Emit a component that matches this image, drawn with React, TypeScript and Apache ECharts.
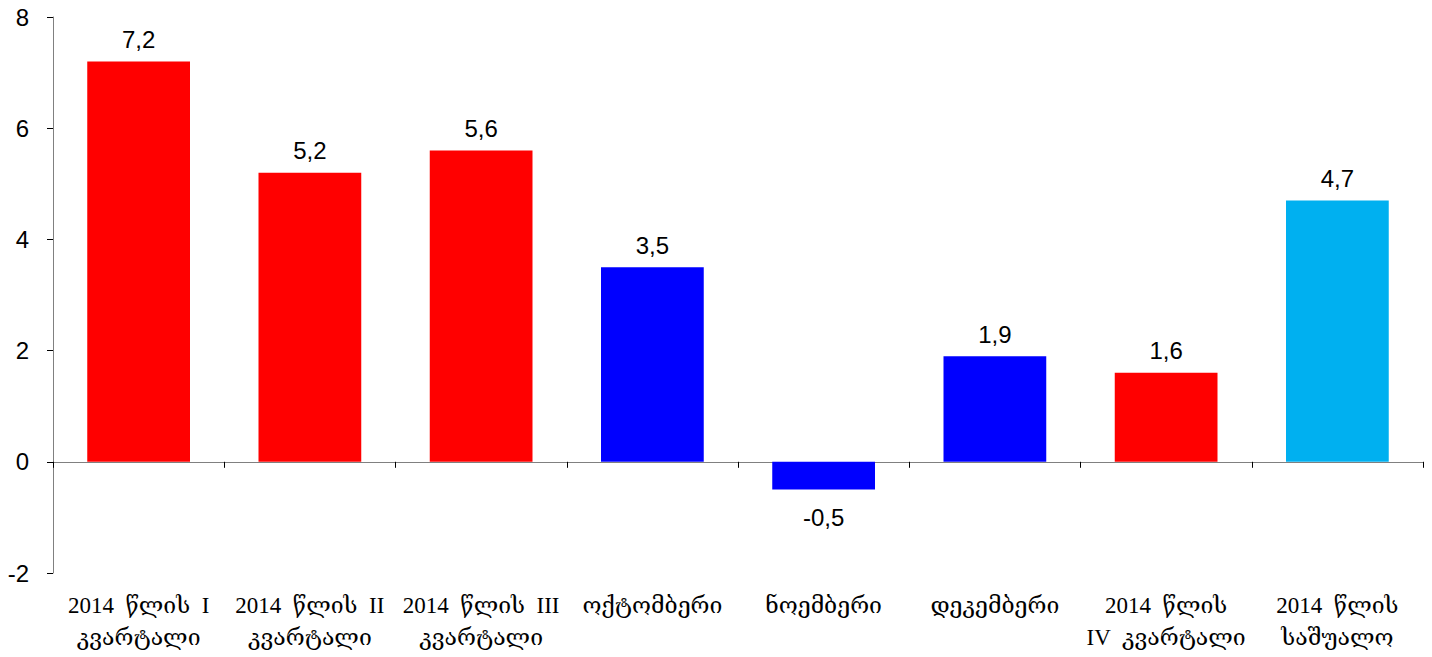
import React, { useEffect, useRef } from "react";
import * as echarts from "echarts";

const categories = [
  "2014  წლის  I\nკვარტალი",
  "2014  წლის  II\nკვარტალი",
  "2014  წლის  III\nკვარტალი",
  "ოქტომბერი",
  "ნოემბერი",
  "დეკემბერი",
  "2014  წლის\nIV  კვარტალი",
  "2014  წლის\nსაშუალო",
];
const values = [7.2, 5.2, 5.6, 3.5, -0.5, 1.9, 1.6, 4.7];
const barColors = ["#FF0000", "#FF0000", "#FF0000", "#0000FF", "#0000FF", "#0000FF", "#FF0000", "#00B0F0"];
const yMin = -2;
const yMax = 8;
const yInterval = 2;

export default function App() {
  const ref = useRef<HTMLDivElement>(null);
  useEffect(() => {
    if (!ref.current) return;
    const chart = echarts.init(ref.current, undefined, { renderer: "svg" });
    chart.setOption({
      animation: false,
      grid: { left: 53, right: 9, top: 17, bottom: 84, containLabel: false },
      xAxis: [
        {
          type: "category",
          data: categories,
          axisLine: { onZero: true, lineStyle: { color: "#808080", width: 1 } },
          axisTick: { show: true, length: 6, lineStyle: { color: "#000" } },
          axisLabel: { show: false },
        },
        {
          type: "category",
          data: categories,
          position: "bottom",
          axisLine: { show: false, onZero: false },
          axisTick: { show: false },
          axisLabel: {
            show: true,
            interval: 0,
            margin: 16,
            color: "#000",
            fontFamily: "'Liberation Serif', 'DejaVu Serif', serif",
            fontSize: 23,
            lineHeight: 32,
          },
        },
      ],
      yAxis: {
        type: "value",
        min: yMin,
        max: yMax,
        interval: yInterval,
        axisLine: { show: true, lineStyle: { color: "#808080", width: 1 } },
        axisTick: { show: true, length: 6, lineStyle: { color: "#000" } },
        splitLine: { show: false },
        axisLabel: {
          color: "#000",
          fontFamily: "'Liberation Sans', Arial, sans-serif",
          fontSize: 24,
          margin: 24,
        },
      },
      series: [
        {
          type: "bar",
          xAxisIndex: 0,
          barCategoryGap: "40%",
          data: values.map((v, i) => ({
            value: v,
            itemStyle: { color: barColors[i] },
            label: { distance: v < 0 ? 16 : 10 },
          })),
          label: {
            show: true,
            position: "outside",
            color: "#000",
            fontFamily: "'Liberation Sans', Arial, sans-serif",
            fontSize: 24,
            formatter: (p: any) => String(p.value).replace(".", ","),
          },
        },
      ],
    });
    return () => chart.dispose();
  }, []);
  return <div ref={ref} style={{ width: 1432, height: 657, position: "absolute", left: 0, top: 0 }} />;
}
